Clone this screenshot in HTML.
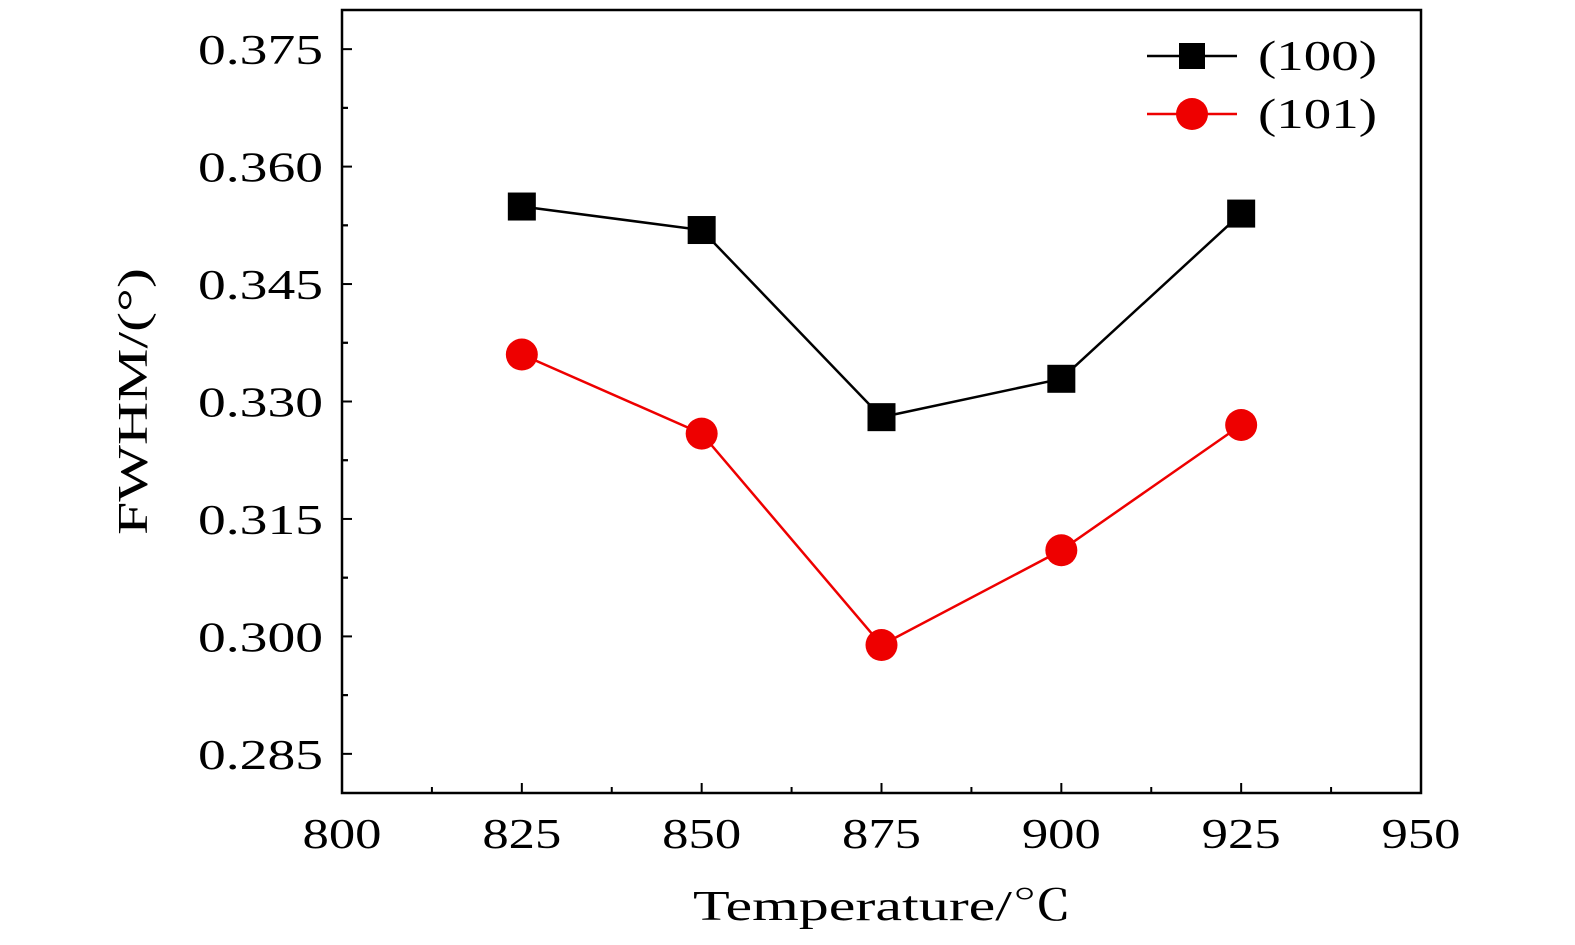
<!DOCTYPE html>
<html><head><meta charset="utf-8"><style>
html,body{margin:0;padding:0;background:#fff;width:1575px;height:945px;overflow:hidden;}
svg{display:block;position:absolute;left:0;top:0;font-family:"Liberation Serif","Noto Serif CJK SC",serif;}
</style></head><body>
<svg id="chart" width="1575" height="945" viewBox="0 0 1575 945">
<g id="axes"></g><g id="series"></g>
<g>
 <line x1="1147" y1="56" x2="1237" y2="56" stroke="#000" stroke-width="2.5"/>
 <rect x="1179" y="43" width="26" height="26" fill="#000"/>
 <text x="1258" y="70" font-size="42" textLength="119" lengthAdjust="spacingAndGlyphs">(100)</text>
 <line x1="1147" y1="114" x2="1237" y2="114" stroke="#e00" stroke-width="2.5"/>
 <circle cx="1192" cy="114" r="16" fill="#e00"/>
 <text x="1258" y="128" font-size="42" textLength="119" lengthAdjust="spacingAndGlyphs">(101)</text>
</g>
<text x="693" y="920" font-size="42" textLength="379" lengthAdjust="spacingAndGlyphs">Temperature/℃</text>
<text transform="translate(147,535) rotate(-90)" font-size="42" textLength="267" lengthAdjust="spacingAndGlyphs">FWHM/(°)</text>
</svg>
<script>
const categories=[825,850,875,900,925];
const series100=[0.3549,0.3519,0.3280,0.3329,0.3540];
const series101=[0.3360,0.3259,0.2989,0.3110,0.3270];
const xTicks=[800,825,850,875,900,925,950];
const yTicks=[0.285,0.300,0.315,0.330,0.345,0.360,0.375];
const L=342,R=1421,T=10,B=793,XMIN=800,XMAX=950,YMIN=0.28,YMAX=0.38;
const NS="http://www.w3.org/2000/svg";
function x(v){return L+(v-XMIN)/(XMAX-XMIN)*(R-L);}
function y(v){return B-(v-YMIN)/(YMAX-YMIN)*(B-T);}
function mk(t,a,p){const e=document.createElementNS(NS,t);for(const k in a)e.setAttribute(k,a[k]);p.appendChild(e);return e;}
const ax=document.getElementById('axes'),sg=document.getElementById('series');
const frame=mk('rect',{x:L,y:T,width:R-L,height:B-T,fill:'none',stroke:'#000','stroke-width':2.5},ax);


xTicks.forEach((v,i)=>{
 mk('line',{x1:x(v),x2:x(v),y1:B,y2:B-10,stroke:'#000','stroke-width':2},ax);
 if(i<xTicks.length-1){const m=v+12.5;mk('line',{x1:x(m),x2:x(m),y1:B,y2:B-6,stroke:'#000','stroke-width':2},ax);}
 const t=mk('text',{x:x(v)-39.5,y:B+55,'font-size':42,textLength:79,lengthAdjust:'spacingAndGlyphs'},ax);t.textContent=v;
 
 
});
yTicks.forEach((v)=>{
 mk('line',{x1:L,x2:L+10,y1:y(v),y2:y(v),stroke:'#000','stroke-width':2},ax);
 [v-0.0075,v+0.0075].forEach(m=>{if(m>YMIN&&m<YMAX)mk('line',{x1:L,x2:L+6,y1:y(m),y2:y(m),stroke:'#000','stroke-width':2},ax);});
 const t=mk('text',{x:198,y:y(v)+15,'font-size':42,textLength:125,lengthAdjust:'spacingAndGlyphs'},ax);t.textContent=v.toFixed(3);
 
 
});
function draw(vals,color,shape,name){
 const pl=mk('polyline',{points:categories.map((c,i)=>x(c)+','+y(vals[i])).join(' '),fill:'none',stroke:color,'stroke-width':2.5},sg);
 
 
 categories.forEach((c,i)=>{
  let e;
  if(shape==='sq')e=mk('rect',{x:x(c)-14,y:y(vals[i])-14,width:28,height:28,fill:color},sg);
  else e=mk('circle',{cx:x(c),cy:y(vals[i]),r:16,fill:color},sg);
  
  
 });
}
draw(series100,'#000','sq','series-100');
draw(series101,'#e00','ci','series-101');
</script>
</body></html>
